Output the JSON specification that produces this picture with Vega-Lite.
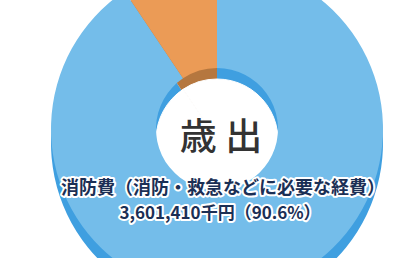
{
  "$schema": "https://vega.github.io/schema/vega-lite/v6.json",
  "width": 400,
  "height": 258,
  "padding": {"left": 17, "top": 0, "right": 0, "bottom": 0},
  "autosize": {"type": "none"},
  "background": "white",
  "config": {"view": {"stroke": null}, "text": {"font": "Noto Sans CJK JP"}},
  "data": {
    "values": [
      {"category": "消防費", "label1": "消防費（消防・救急などに必要な経費）", "label2": "3,601,410千円（90.6%）", "value": 3601410, "order": 1},
      {"category": "その他", "label1": "", "label2": "", "value": 373656, "order": 2}
    ]
  },
  "layer": [
    {
      "mark": {"type": "arc", "outerRadius": 166, "yOffset": 14},
      "encoding": {
        "theta": {"field": "value", "type": "quantitative", "stack": true},
        "order": {"field": "order"},
        "color": {"field": "category", "type": "nominal", "scale": {"domain": ["消防費", "その他"], "range": ["#3f9fe0", "#b5773f"]}, "legend": null}
      }
    },
    {
      "mark": {"type": "arc", "outerRadius": 61, "yOffset": 11, "fill": "white", "stroke": "white", "strokeWidth": 1},
      "encoding": {
        "theta": {"field": "value", "type": "quantitative", "stack": true},
        "order": {"field": "order"}
      }
    },
    {
      "mark": {"type": "arc", "outerRadius": 166, "innerRadius": 61},
      "encoding": {
        "theta": {"field": "value", "type": "quantitative", "stack": true},
        "order": {"field": "order"},
        "color": {"field": "category", "type": "nominal", "scale": {"domain": ["消防費", "その他"], "range": ["#74bdea", "#eb9b56"]}, "legend": null}
      }
    },
    {
      "data": {"values": [{"title": "歳 出"}]},
      "mark": {"type": "text", "fontSize": 37, "fontWeight": 500, "color": "#333333", "dx": 4, "dy": 10, "baseline": "middle", "align": "center"},
      "encoding": {"text": {"field": "title"}}
    },
    {
      "mark": {"type": "text", "fontSize": 18, "fontWeight": "bold", "fill": "white", "stroke": "white", "strokeWidth": 4, "strokeJoin": "round", "dx": 6, "dy": 60, "baseline": "middle", "align": "center"},
      "encoding": {"text": {"field": "label1"}}
    },
    {
      "mark": {"type": "text", "fontSize": 18, "fontWeight": "bold", "fill": "#1b2f55", "dx": 6, "dy": 60, "baseline": "middle", "align": "center"},
      "encoding": {"text": {"field": "label1"}}
    },
    {
      "mark": {"type": "text", "fontSize": 17, "fontWeight": "bold", "fill": "white", "stroke": "white", "strokeWidth": 4, "strokeJoin": "round", "dx": 3, "dy": 85, "baseline": "middle", "align": "center"},
      "encoding": {"text": {"field": "label2"}}
    },
    {
      "mark": {"type": "text", "fontSize": 17, "fontWeight": "bold", "fill": "#1b2f55", "dx": 3, "dy": 85, "baseline": "middle", "align": "center"},
      "encoding": {"text": {"field": "label2"}}
    }
  ],
  "resolve": {"scale": {"color": "independent"}}
}
